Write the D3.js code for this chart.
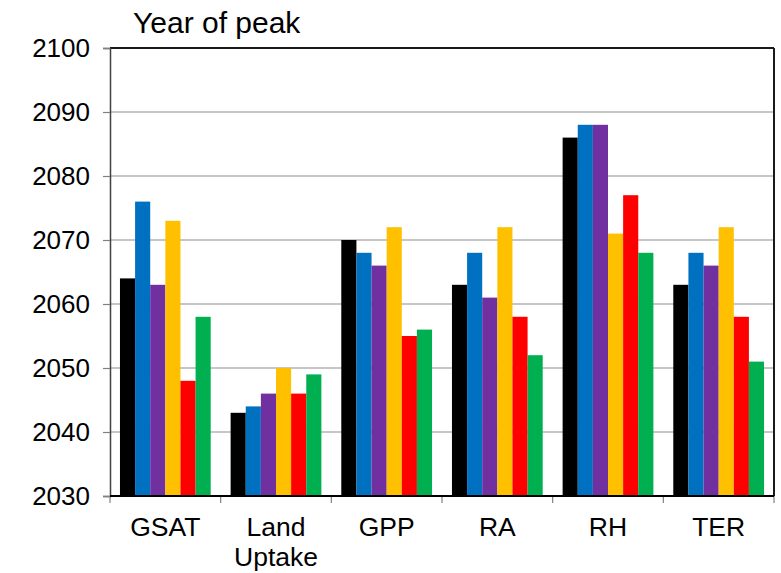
<!DOCTYPE html>
<html>
<head>
<meta charset="utf-8">
<script src="https://cdn.jsdelivr.net/npm/d3@7"></script>
<style>
  html, body { margin: 0; padding: 0; background: #fff; }
  svg { display: block; font-family: "Liberation Sans", Arial, sans-serif; }
</style>
</head>
<body>
<div id="chart"></div>
<script>
// Category labels (multi-line labels split on "\n")
const categories = ["GSAT", "Land\nUptake", "GPP", "RA", "RH", "TER"];

// Year of peak for each run, one array per run, in category order
const runBlack  = [2064, 2043, 2070, 2063, 2086, 2063];
const runBlue   = [2076, 2044, 2068, 2068, 2088, 2068];
const runPurple = [2063, 2046, 2066, 2061, 2088, 2066];
const runYellow = [2073, 2050, 2072, 2072, 2071, 2072];
const runRed    = [2048, 2046, 2055, 2058, 2077, 2058];
const runGreen  = [2058, 2049, 2056, 2052, 2068, 2051];

const runs = [runBlack, runBlue, runPurple, runYellow, runRed, runGreen];
const runColors = ["#000000", "#0070C0", "#7030A0", "#FFC000", "#FF0000", "#00B050"];

const yTicks = [2030, 2040, 2050, 2060, 2070, 2080, 2090, 2100];
const yDomain = [2030, 2100];
const titleText = "Year of peak";

const W = 781, H = 573;
const margin = { top: 48, right: 7, bottom: 77, left: 110 };
const iw = W - margin.left - margin.right;
const ih = H - margin.top - margin.bottom;
const FONT = "'Liberation Sans', Arial, sans-serif";

const svg = d3.select("#chart").append("svg")
  .attr("width", W).attr("height", H);

const g = svg.append("g").attr("transform", `translate(${margin.left},${margin.top})`);

const x = d3.scaleBand().domain(categories).range([0, iw])
  .paddingInner(0.18).paddingOuter(0.09);
const xRun = d3.scaleBand().domain(d3.range(runs.length)).range([0, x.bandwidth()]).padding(0);
const y = d3.scaleLinear().domain(yDomain).range([ih, 0]);

// Horizontal gridlines
g.append("g").selectAll("line")
  .data(yTicks.filter(t => t > yDomain[0] && t < yDomain[1]))
  .join("line")
  .attr("x1", 0).attr("x2", iw)
  .attr("y1", d => y(d)).attr("y2", d => y(d))
  .attr("stroke", "#b3b3b3").attr("stroke-width", 1.6);

// Bars
const rows = categories.map((c, i) => ({ cat: c, vals: runs.map(r => r[i]) }));
g.append("g").selectAll("g")
  .data(rows)
  .join("g")
  .attr("transform", d => `translate(${x(d.cat)},0)`)
  .selectAll("rect")
  .data(d => d.vals.map((v, k) => ({ v, k })))
  .join("rect")
  .attr("x", d => xRun(d.k))
  .attr("width", xRun.bandwidth())
  .attr("y", d => y(d.v))
  .attr("height", d => y(yDomain[0]) - y(d.v))
  .attr("fill", d => runColors[d.k]);

// Frame: top and right edges
g.append("line").attr("x1", 0).attr("x2", iw).attr("y1", 0).attr("y2", 0)
  .attr("stroke", "#1a1a1a").attr("stroke-width", 2);
g.append("line").attr("x1", iw).attr("x2", iw).attr("y1", 0).attr("y2", ih)
  .attr("stroke", "#1a1a1a").attr("stroke-width", 2);

// Y axis
const yAxis = g.append("g")
  .call(d3.axisLeft(y).tickValues(yTicks).tickFormat(d3.format("d")).tickSize(7).tickPadding(13));
yAxis.select(".domain").attr("stroke", "#404040").attr("stroke-width", 1.5);
yAxis.selectAll(".tick line").attr("stroke", "#808080").attr("stroke-width", 1.2);
yAxis.selectAll(".tick text")
  .attr("font-size", 26).attr("fill", "#000")
  .attr("font-family", FONT);

// X axis baseline and category separators
const xAxisG = g.append("g").attr("transform", `translate(0,${ih})`);
const boundaries = categories.map(c => x(c) - x.step() * x.paddingInner() / 2)
  .concat([iw]);
boundaries[0] = 0;
xAxisG.selectAll("line.sep")
  .data(boundaries)
  .join("line")
  .attr("class", "sep")
  .attr("x1", d => d).attr("x2", d => d)
  .attr("y1", 0).attr("y2", 7)
  .attr("stroke", "#808080").attr("stroke-width", 1.2);
xAxisG.append("line").attr("x1", 0).attr("x2", iw).attr("y1", 0).attr("y2", 0)
  .attr("stroke", "#000").attr("stroke-width", 2);

// Category labels
const labels = xAxisG.selectAll("text.cat")
  .data(categories)
  .join("text")
  .attr("class", "cat")
  .attr("text-anchor", "middle")
  .attr("font-size", 26.5)
  .attr("font-family", FONT)
  .attr("fill", "#000")
  .attr("transform", d => `translate(${x(d) + x.bandwidth() / 2},0)`);
labels.selectAll("tspan")
  .data(d => d.split("\n"))
  .join("tspan")
  .attr("x", 0)
  .attr("y", (d, i) => 40 + i * 30)
  .text(d => d);

// Title
svg.append("text")
  .attr("x", 133).attr("y", 33)
  .attr("font-size", 30)
  .attr("font-family", FONT)
  .attr("fill", "#000")
  .text(titleText);
</script>
</body>
</html>
